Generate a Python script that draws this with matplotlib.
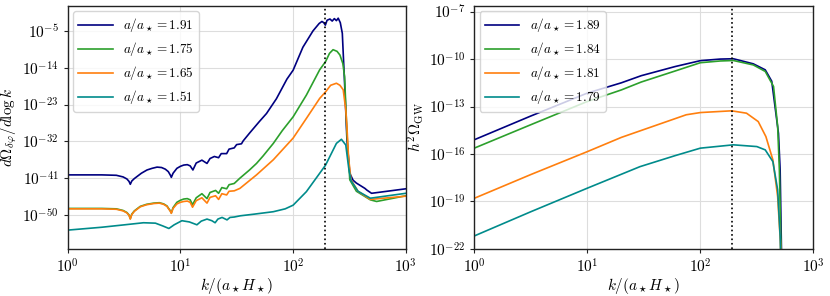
import numpy as np
import matplotlib
matplotlib.use("Agg")
import matplotlib.pyplot as plt
from matplotlib.ticker import FuncFormatter, FixedLocator, NullLocator

plt.rcParams['mathtext.fontset'] = 'cm'
plt.rcParams['font.family'] = 'DejaVu Serif'

# left panel: d Omega / d log k, values stored as log10
k_191 = [1, 2.0, 2.7, 3.1, 3.35, 3.5, 3.59, 3.7, 3.9, 4.12, 4.5, 5.05, 5.6, 6.2, 6.8,
         7.34, 7.8, 8.15, 8.3, 8.6, 9.3, 10.0, 10.7, 11.5, 12.2, 12.9, 13.8,
         15.5, 17.2, 18.3, 20.0, 21.8, 23.0, 25.7, 27.0, 30.0, 31.5, 34.8, 36.0, 41, 50,
         58, 71, 88, 100, 122, 150, 170, 180, 187, 193, 200, 212, 222, 232, 242, 251,
         262, 273, 286, 300, 318, 340, 364, 433, 450, 496, 1000]
lg_191 = [-40.2, -40.2, -40.3, -40.7, -41.2, -41.8, -42.5, -41.7, -41.1, -40.6, -39.8,
          -39.0, -38.6, -38.3, -38.4, -38.8, -39.4, -40.3, -40.8, -39.8, -38.6, -38.1,
          -37.8, -37.7, -38.0, -39.0, -37.3, -36.6, -37.4, -36.2, -35.7, -36.0, -35.0,
          -35.0, -33.9, -33.6, -32.8, -32.6, -31.9, -30.0, -27.2, -25.2, -21.6, -16.8,
          -14.6, -9.0, -5.0, -3.2, -2.7, -3.0, -3.6, -2.4, -2.1, -2.6, -2.0, -2.5, -1.9,
          -3.0, -5.6, -17.8, -31.6, -39.8, -41.5, -42.2, -43.5, -43.9, -44.7, -43.6]

k_175 = [1, 2.0, 2.7, 3.1, 3.35, 3.5, 3.59, 3.7, 3.9, 4.4, 5.0, 5.8, 6.5, 7.1, 7.6,
         7.85, 8.1, 8.3, 8.6, 9.3, 10.0, 10.7, 11.5, 12.2, 12.8, 13.8,
         15.5, 17.2, 18.3, 20.5, 21.8, 23.3, 25.7, 27.0, 30.0, 33.7, 41, 47.3, 54, 66.7,
         80, 100, 131, 172, 194, 210, 226, 245, 260, 276, 286, 300, 318, 364, 484, 550,
         1000]
lg_175 = [-48.4, -48.4, -48.5, -48.9, -49.4, -50.0, -50.9, -49.8, -49.0, -47.9, -47.4,
          -47.1, -47.0, -47.3, -47.8, -48.4, -48.9, -49.5, -48.2, -46.9, -46.4, -46.1,
          -46.0, -46.3, -47.5, -45.8, -44.8, -46.0, -44.5, -44.0, -44.7, -43.3, -43.6,
          -42.6, -42.3, -41.0, -39.0, -37.4, -35.6, -32.5, -29.4, -26.0, -20.7, -14.5,
          -12.5, -10.5, -9.6, -10.0, -10.9, -13.0, -16.2, -30.0, -41.4, -44.2, -46.3,
          -46.7, -45.3]

k_165 = [1, 2.0, 2.7, 3.1, 3.35, 3.5, 3.59, 3.7, 3.9, 4.4, 5.0, 5.8, 6.5, 7.1, 7.6,
         7.85, 8.1, 8.3, 8.6, 9.3, 10.0, 10.7, 11.5, 12.2, 12.8, 13.8,
         15.5, 17.2, 18.3, 20.5, 21.8, 23.3, 25.7, 27.0, 30.0, 33.7, 47.3, 66.7, 100,
         131, 172, 194, 215, 242, 260, 278, 293, 300, 310, 326, 376, 484, 1000]
lg_165 = [-48.5, -48.5, -48.6, -49.0, -49.5, -50.1, -51.0, -49.9, -49.1, -48.0, -47.5,
          -47.2, -47.1, -47.4, -47.9, -48.5, -49.0, -49.6, -48.4, -47.3, -46.9, -46.7,
          -46.6, -46.9, -48.1, -46.5, -45.8, -47.1, -45.7, -45.3, -46.2, -44.8, -45.1,
          -44.2, -44.1, -43.5, -40.2, -36.5, -31.2, -26.4, -21.5, -19.9, -18.3, -17.8,
          -18.3, -19.4, -24.3, -28.4, -36.0, -41.4, -44.2, -46.2, -45.4]

k_151 = [1, 2, 3.2, 4.7, 6.0, 7.0, 7.9, 8.8, 10.3, 12.0, 14.0, 15.3, 17.2, 19.0, 20.3,
         21.5, 23.4, 25.9, 27.5, 30, 34, 45, 66.7, 85, 100, 131, 172, 194, 242, 268,
         293, 311, 326, 376, 484, 1000]
lg_151 = [-53.7, -53.0, -52.4, -51.9, -52.0, -52.7, -53.3, -52.4, -51.4, -51.7, -52.4,
          -51.5, -51.0, -51.4, -51.9, -51.0, -50.6, -51.2, -50.6, -50.5, -50.2, -49.8,
          -49.2, -48.5, -47.6, -44.3, -39.8, -37.8, -32.5, -31.5, -32.9, -38.5, -41.6,
          -44.2, -45.9, -44.7]

# right panel: h^2 Omega_GW, values stored as log10
k_189 = [1, 3.16, 10, 20, 30, 60, 100, 150, 196, 294, 375, 428, 491, 508, 530]
lg_189 = [-15.1, -13.6, -12.15, -11.5, -11.05, -10.47, -10.1, -10.0, -9.98, -10.3,
          -10.68, -11.4, -14.7, -17.0, -25.0]

k_184 = [1, 3.16, 10, 20, 30, 60, 100, 150, 196, 294, 375, 444, 483, 500, 528]
lg_184 = [-15.63, -14.15, -12.68, -11.95, -11.45, -10.75, -10.23, -10.12, -10.09,
          -10.37, -10.78, -11.73, -14.27, -17.0, -25.0]

k_181 = [1, 3.16, 10, 20, 40, 75, 100, 189, 256, 325, 380, 438, 483, 510, 530]
lg_181 = [-18.8, -17.3, -15.85, -14.95, -14.2, -13.52, -13.38, -13.27, -13.42, -13.95,
          -14.9, -16.37, -18.7, -21.5, -25.0]

k_179 = [1, 3.16, 10, 29.2, 60, 100, 196, 316, 375, 438, 483, 508, 525]
lg_179 = [-21.18, -19.65, -18.16, -16.8, -16.1, -15.63, -15.42, -15.53, -15.74, -16.48,
          -18.27, -21.2, -25.0]

k_peak = 190

left_series = [(k_191, lg_191, 1.91, 'navy'), (k_175, lg_175, 1.75, '#2ca02c'),
               (k_165, lg_165, 1.65, '#ff7f0e'), (k_151, lg_151, 1.51, '#008b8b')]
right_series = [(k_189, lg_189, 1.89, 'navy'), (k_184, lg_184, 1.84, '#2ca02c'),
                (k_181, lg_181, 1.81, '#ff7f0e'), (k_179, lg_179, 1.79, '#008b8b')]

fig = plt.figure(figsize=(8.3, 2.96), dpi=100)
ax1 = fig.add_axes([0.0816, 0.159, 0.4074, 0.821])
ax2 = fig.add_axes([0.5714, 0.159, 0.4086, 0.821])

fmt = FuncFormatter(lambda v, p: r'$10^{%d}$' % int(round(np.log10(v))))

for ax, series in [(ax1, left_series), (ax2, right_series)]:
    for k, lg, a, c in series:
        ax.plot(k, 10.0 ** np.array(lg), color=c, lw=1.2,
                label=r'$a/a_\star = %.2f$' % a)
    ax.axvline(k_peak, color='black', ls=':', lw=1.2)
    ax.set_xscale('log')
    ax.set_yscale('log')
    ax.set_xlim(1, 1000)
    ax.xaxis.set_major_locator(FixedLocator([1, 10, 100, 1000]))
    ax.xaxis.set_major_formatter(fmt)
    ax.xaxis.set_minor_locator(NullLocator())
    ax.yaxis.set_minor_locator(NullLocator())
    ax.grid(True, color='#dddddd', lw=0.8)
    ax.set_axisbelow(True)
    for s in ax.spines.values():
        s.set_color('#222222')
        s.set_linewidth(1.0)
    ax.tick_params(axis='both', which='major', labelsize=11, length=3, width=0.8,
                   color='#222222')
    ax.set_xlabel(r'$k/(a_\star H_\star)$', fontsize=11, labelpad=0)
    ax.legend(loc='upper left', fontsize=9.5, frameon=True, edgecolor='#cccccc',
              handlelength=2.6, labelspacing=0.45, borderaxespad=0.4)

ax1.set_ylim(10 ** -58.3, 10 ** 1.1)
ax1.yaxis.set_major_locator(FixedLocator([1e-50, 1e-41, 1e-32, 1e-23, 1e-14, 1e-5]))
ax1.yaxis.set_major_formatter(fmt)
ax1.set_ylabel(r'$d\Omega_{\delta\varphi}/d\log k$', fontsize=11, labelpad=2)

ax2.set_ylim(1e-22, 10 ** -6.64)
ax2.yaxis.set_major_locator(FixedLocator([1e-22, 1e-19, 1e-16, 1e-13, 1e-10, 1e-7]))
ax2.yaxis.set_major_formatter(fmt)
ax2.set_ylabel(r'$h^2\Omega_{\rm GW}$', fontsize=11, labelpad=2)

fig.savefig('out.png', dpi=100)
